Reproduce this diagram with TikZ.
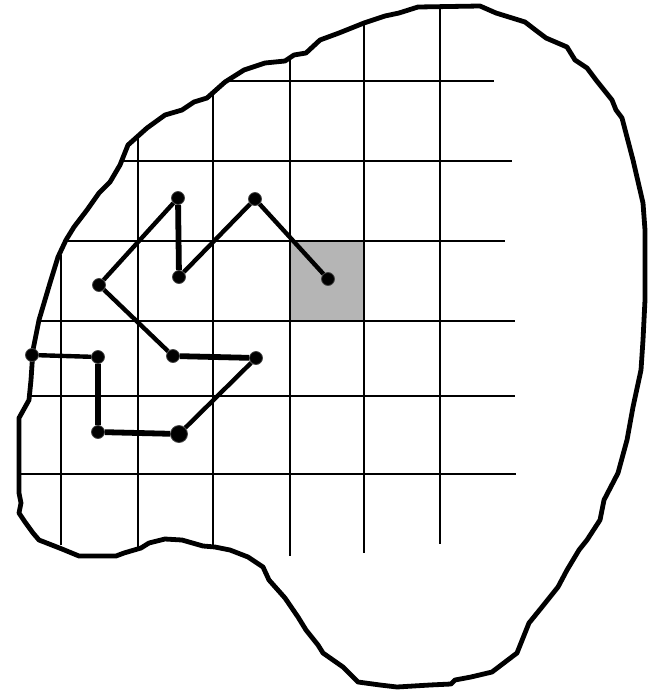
\documentclass[tikz,border=0pt]{standalone}
\usepackage{xcolor}
\usepackage{tikz}
\usetikzlibrary{positioning}
\definecolor{cellgrey}{RGB}{181,181,181}
\definecolor{ringgrey}{RGB}{70,70,70}

\begin{document}
\begin{tikzpicture}[x=1pt, y=-1pt,
    rim/.style={draw=black, line width=4.8pt, line join=round},
    gridln/.style={draw=black, line width=2.4pt},
    cell/.style={fill=cellgrey},
    walk/.style={draw=black, line width=4.4pt},
    walkb/.style={walk, line width=5.8pt},
    dot/.style={circle, fill=black, draw=ringgrey, line width=0.8pt,
                inner sep=0pt, minimum size=13pt},
    bigdot/.style={dot, minimum size=17pt}
  ]
  \useasboundingbox (0,0) rectangle (648,691);

  % the region
  \draw[rim] (33,350) -- (39,320) -- (50,283) -- (58,257) -- (66,240) -- (74,227)
    -- (87,210) -- (99,193) -- (110,182) -- (120,165) -- (128,145) -- (147,128)
    -- (165,115) -- (182,110) -- (194,102) -- (207,98) -- (225,82) -- (244,70)
    -- (265,63) -- (285,61) -- (294,55) -- (306,53) -- (320,40) -- (339,33)
    -- (364,23) -- (385,16) -- (399,13) -- (418,7) -- (480,6) -- (496,13)
    -- (525,22) -- (538,32) -- (546,38) -- (567,47) -- (575,60) -- (587,68)
    -- (596,80) -- (612,100) -- (616,110) -- (622,118) -- (633,160) -- (643,203)
    -- (645,230) -- (645,300) -- (643,340) -- (641,370) -- (633,407) -- (627,440)
    -- (618,473) -- (604,500) -- (600,520) -- (587,540) -- (579,550) -- (567,570)
    -- (558,587) -- (542,607) -- (529,623) -- (517,653) -- (492,672) -- (471,677)
    -- (455,680) -- (451,684) -- (430,685) -- (397,687) -- (380,685) -- (358,682)
    -- (343,667) -- (323,653) -- (318,645) -- (306,630) -- (298,617) -- (285,598)
    -- (269,580) -- (263,567) -- (248,557) -- (230,550) -- (215,547) -- (203,546)
    -- (182,540) -- (165,539) -- (149,543) -- (141,548) -- (124,553) -- (116,556)
    -- (79,556) -- (62,549) -- (39,540) -- (33,533) -- (25,522) -- (19,513)
    -- (21,503) -- (19,493) -- (19,418) -- (29,400) -- (31,380) -- cycle;

  % target cell
  \fill[cell] (290,241) rectangle (364,321);

  % grid
  \foreach \y/\xa/\xb in {81/230/494, 161/124/512, 241/66/505,
                          321/37/515, 396/31/515, 474/21/516}
    \draw[gridln] (\xa,\y) -- (\xb,\y);
  \foreach \x/\ya/\yb in {61/255/545, 138/137/550, 213/92/545,
                          290/60/556, 364/25/553, 440/7/544}
    \draw[gridln] (\x,\ya) -- (\x,\yb);

  % walk
  \node[dot] (w1) at (32,355) {};
  \node[dot] (w2) at (98,357) {};
  \node[dot] (w3) at (98,432) {};
  \node[bigdot] (w4) at (179,434) {};
  \node[dot] (w5) at (256,358) {};
  \node[dot] (w6) at (173,356) {};
  \node[dot] (w7) at (99,285) {};
  \node[dot] (w8) at (178,198) {};
  \node[dot] (w9) at (179,277) {};
  \node[dot] (w10) at (255,199) {};
  \node[dot] (w11) at (328,279) {};

  \draw[walk] (w1) -- (w2);
  \draw[walkb] (w2) -- (w3) -- (w4);
  \draw[walk] (w4) -- (w5);
  \draw[walkb] (w5) -- (w6);
  \draw[walk] (w6) -- (w7) -- (w8);
  \draw[walkb] (w8) -- (w9);
  \draw[walk] (w9) -- (w10) -- (w11);
\end{tikzpicture}
\end{document}
